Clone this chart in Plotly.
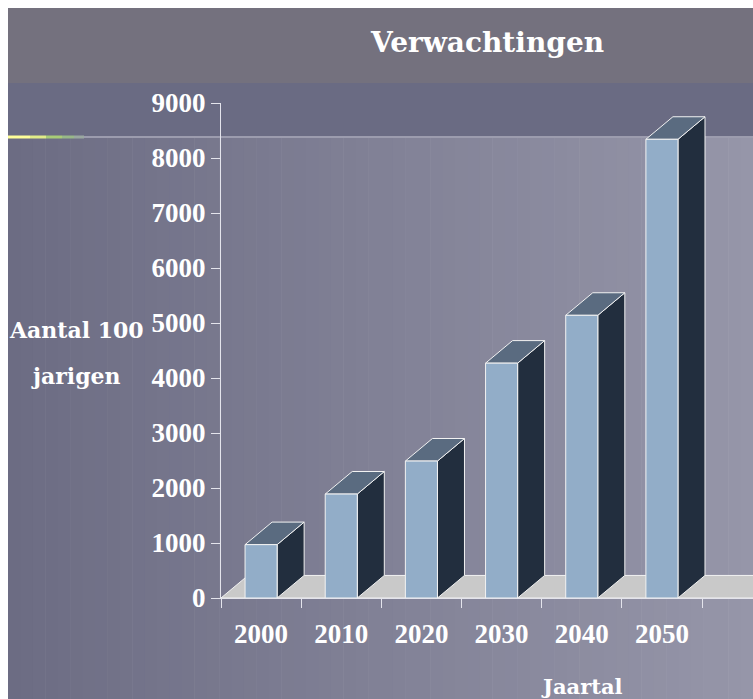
import plotly.graph_objects as go

# ---- data ----
years = ["2000", "2010", "2020", "2030", "2040", "2050"]
values = [970, 1890, 2490, 4270, 5140, 8340]
y_ticks = [0, 1000, 2000, 3000, 4000, 5000, 6000, 7000, 8000, 9000]
title_text = "Verwachtingen"
y_title_lines = ["Aantal 100", "jarigen"]
x_title = "Jaartal"

# ---- geometry / style ----
W, H = 753, 699               # figure size (= window)
L, T, B = 221, 103, 598       # plot area px
R = W
CAT = 80.17                   # px per category
XMIN = -0.5
XMAX = XMIN + (R - L) / CAT
YMIN, YMAX = 0, 9000
HALF = 0.2          # half width of front face (category units)
DX = 0.337          # depth offset x (category units)
DY = 410            # depth offset y (value units)

FRONT = "#92adc8"
TOP = "#5a6b80"
SIDE = "#222e3e"
FLOOR = "#c9c9c9"
EDGE = "#f2f2f2"
SERIF = "Liberation Serif"
SERIF_W = "DejaVu Serif"


def px_x(wx):
    return (wx - L) / (R - L)


def px_y(wy):
    return (B - wy) / (B - T)


fig = go.Figure()

# floor
fig.add_trace(go.Scatter(
    x=[XMIN, XMAX + 0.2, XMAX + 0.2, XMIN + DX, XMIN],
    y=[0, 0, DY, DY, 0],
    fill="toself", fillcolor=FLOOR, mode="lines",
    line=dict(color=EDGE, width=1), hoverinfo="skip", showlegend=False,
))

for i, v in enumerate(values):
    xl, xr = i - HALF, i + HALF
    fig.add_trace(go.Scatter(
        x=[xr, xr + DX, xr + DX, xr, xr],
        y=[0, DY, v + DY, v, 0],
        fill="toself", fillcolor=SIDE, mode="lines",
        line=dict(color=EDGE, width=1), hoverinfo="skip", showlegend=False,
    ))
    fig.add_trace(go.Scatter(
        x=[xl, xl + DX, xr + DX, xr, xl],
        y=[v, v + DY, v + DY, v, v],
        fill="toself", fillcolor=TOP, mode="lines",
        line=dict(color=EDGE, width=1), hoverinfo="skip", showlegend=False,
    ))
    fig.add_trace(go.Scatter(
        x=[xl, xr, xr, xl, xl],
        y=[0, 0, v, v, 0],
        fill="toself", fillcolor=FRONT, mode="lines",
        line=dict(color=EDGE, width=1), hoverinfo="skip", showlegend=False,
        name=years[i],
    ))

# ---- background shapes ----
shapes = []


def rect(x0, y0, x1, y1, color):
    shapes.append(dict(type="rect", xref="paper", yref="paper",
                       x0=px_x(x0), x1=px_x(x1), y0=px_y(y1), y1=px_y(y0),
                       fillcolor=color, line=dict(width=0), layer="below"))


def lerp(c0, c1, t):
    return "rgb(%d,%d,%d)" % tuple(round(a + (b - a) * t) for a, b in zip(c0, c1))


c_left = (0x6c, 0x6c, 0x83)
c_right = (0x96, 0x96, 0xa9)
n = 60
x_start, x_end = 8, W
for k in range(n):
    a = x_start + (x_end - x_start) * k / n
    b = x_start + (x_end - x_start) * (k + 1) / n + 0.6
    if k == n - 1:
        b = W + 5
    rect(a, 137, b, H + 5, lerp(c_left, c_right, (k + 0.5) / n))
rect(8, 83, W + 5, 137, "#6a6b83")
rect(8, 8, W + 5, 83, "#74717e")
shapes.append(dict(type="line", xref="paper", yref="paper",
                   x0=px_x(8), x1=px_x(W + 5), y0=px_y(137), y1=px_y(137),
                   line=dict(color="#9c9cae", width=2), layer="below"))
glow = [(8, 30, "#ffff99"), (30, 46, "#e0ec88"), (46, 62, "#a8cc77"),
        (62, 74, "#98b888"), (74, 84, "#9aa8a0")]
for a, b, c in glow:
    shapes.append(dict(type="line", xref="paper", yref="paper",
                       x0=px_x(a), x1=px_x(b), y0=px_y(137), y1=px_y(137),
                       line=dict(color=c, width=3), layer="below"))


# ---- annotations ----
def label(text, wx, wy, size):
    return dict(text="<b>%s</b>" % text, x=px_x(wx), y=px_y(wy),
                font=dict(family=SERIF_W, size=size, color="white"),
                xref="paper", yref="paper", showarrow=False,
                xanchor="center", yanchor="middle")


ann = [
    label(title_text, 487, 42, 28),
    label(y_title_lines[0], 76, 330, 22),
    label(y_title_lines[1], 76, 376, 22),
    label(x_title, 582, 686, 21),
]

tickfont = dict(family=SERIF, size=27, color="white", weight="bold")

fig.update_layout(
    width=W, height=H, autosize=False,
    margin=dict(l=L, r=W - R, t=T, b=H - B, pad=0),
    paper_bgcolor="white",
    plot_bgcolor="rgba(0,0,0,0)",
    showlegend=False,
    shapes=shapes,
    annotations=ann,
    xaxis=dict(
        range=[XMIN, XMAX], showgrid=False, zeroline=False,
        tickvals=list(range(len(years))), ticktext=years,
        ticks="", ticklabelstandoff=12,
        tickfont=tickfont,
        showline=True, linecolor="#e4e4ec", linewidth=1,
        minor=dict(tickvals=[i - 0.5 for i in range(len(years) + 1)],
                   ticks="outside", ticklen=9, tickcolor="#e4e4ec",
                   tickwidth=1, showgrid=False),
        fixedrange=True,
    ),
    yaxis=dict(
        range=[YMIN, YMAX], showgrid=False, zeroline=False,
        tickvals=y_ticks, ticktext=[str(t) for t in y_ticks],
        ticks="outside", ticklen=9, tickcolor="#e4e4ec", tickwidth=1,
        tickfont=tickfont,
        showline=True, linecolor="#e4e4ec", linewidth=1,
        fixedrange=True,
    ),
)

fig.write_html(
    "out.html",
    config={"displayModeBar": False},
    post_script="document.body.style.margin='0';document.body.style.overflow='hidden';",
)
